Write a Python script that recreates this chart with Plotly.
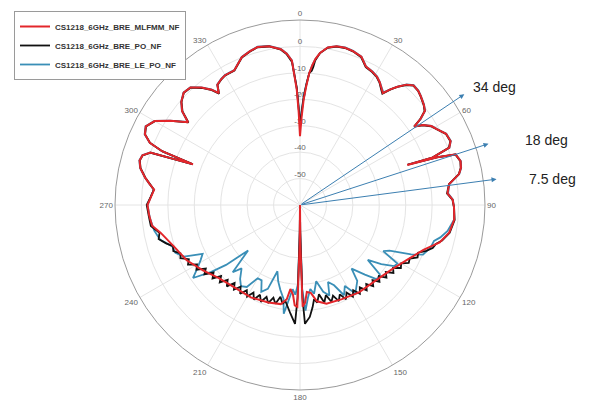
import math
import plotly.graph_objects as go

# ---------------- data ----------------
series_names = ["CS1218_6GHz_BRE_MLFMM_NF", "CS1218_6GHz_BRE_PO_NF", "CS1218_6GHz_BRE_LE_PO_NF"]

theta_mlfmm = [0, 1, 2, 3, 4, 5, 6, 7.5, 10, 13, 16, 19, 22.5, 25.5, 28.5, 31, 33, 35, 36.5, 38,
               39.5, 41.5, 43.5, 46, 48, 51, 53, 54.5, 55.5, 57, 59, 61, 64, 67, 69, 70.3, 69.5,
               70.8, 72, 74.7, 77, 79, 82, 85.5, 88, 91, 95.5, 100.5, 105, 110, 117, 125.5, 135.5,
               146, 156, 165, 170, 173, 175.5, 177, 178.5, 179.5, 180, 180.5, 181.5, 183, 184.5,
               186.5, 188, 191, 198, 208, 218, 228, 236, 244, 252, 258.8, 262, 266, 270, 273, 276,
               278, 280, 283, 285.5, 287.5, 289.3, 290.8, 291.3, 292.5, 294.5, 297, 300, 303, 306.5,
               308.5, 311, 314, 317, 320, 322.5, 324, 325.5, 328, 330, 334, 338.5, 342, 345, 349,
               353, 355, 356.8, 358.4, 359.2, 360]
r_mlfmm = [-34, -27, -20, -15, -10, -7, -4.5, -2, 0.5, 1.6, 1.9, 1.6, 0.7, -2.0, -2.6, -3.4, -4.6,
           -6.2, -7.3, -4.5, -2, 0.8, 2.4, 2.2, 1.5, 0.3, -0.8, -4, -7.5, -4.5, -2, -0.8, 1.5, 1.9,
           0.5, -6.6, -16.7, -5, 1.9, 3.0, 2.5, 1.3, -3, -4, -2.2, -1.7, -1.4, -2.6, -5.3, -10.3,
           -14.4, -17.7, -19.6, -20.1, -21, -21.3, -23, -26.5, -27, -23, -21.5, -45, -60, -45,
           -21.5, -22, -26, -28, -24, -21.8, -21.2, -20.4, -20.2, -18.7, -15.7, -12.3, -9.7, -6.2,
           -3.5, -2.8, -2.3, -3.5, -4.5, -2.5, -0.5, 2.0, 3.0, 2.5, 0, -16.7, -4, 1.5, 4.5, 5.5,
           3.5, -1.5, -7.3, -3, -0.5, 1.2, 0.8, -2.0, -5, -7.7, -4.8, -3.8, -3.3, -3.3, 0.1, 1.2,
           1.9, 1.2, -0.6, -2.5, -5.3, -16.4, -25, -34]

theta_po = [0, 1, 2, 3, 4, 5, 5.5, 6, 7.5, 10, 13, 16, 19, 22.5, 25.5, 28.5, 31, 33, 35, 36.5, 38,
            39.5, 41.5, 43.5, 46, 48, 51, 53, 54.5, 55.5, 57, 59, 61, 64, 67, 69, 70.3, 69.5, 70.8,
            72, 74.7, 77, 79, 82, 85.5, 88, 91, 95.5, 100.5, 104, 106, 108, 110, 112, 114, 116, 118,
            120, 122, 124, 126, 128, 130, 132, 134, 136, 138, 140, 142, 144, 146, 148, 150, 152,
            154, 156, 158, 160, 162, 164, 166, 168, 170, 171.5, 173, 175, 177.6, 178.5, 179.5, 180,
            180.5, 181.5, 182.4, 185, 188.7, 190, 192, 194, 196, 198, 200, 202, 204, 206, 208, 210,
            212, 214, 216, 218, 220, 222, 224, 226, 228, 230, 232, 234, 236, 238, 240, 242, 244,
            246, 248, 250, 252, 254, 256.5, 258.8, 262, 266, 270, 273, 276, 278, 280, 283, 285.5,
            287.5, 289.3, 290.8, 291.3, 292.5, 294.5, 297, 300, 303, 306.5, 308.5, 311, 314, 317,
            320, 322.5, 324, 325.5, 328, 330, 334, 338.5, 342, 345, 349, 353, 355, 356.8, 358.4,
            359.2, 360]
r_po = [-30, -25, -19, -14.5, -10, -9, -7.5, -5, -2, 0.4, 1.5, 1.8, 1.5, 0.5, -2.2, -2.8, -3.6,
        -4.8, -6.5, -7.6, -4.6, -2.1, 0.6, 2.3, 2.1, 1.4, 0.2, -1, -4.2, -7.6, -4.6, -2.2, -0.9, 1.4,
        1.8, 0.3, -6.8, -16.5, -5.2, 1.8, 2.9, 2.4, 1.2, -3.1, -4.2, -2.3, -1.7, -1.2, -2.4, -4.6,
        -6.5, -7.2, -9.2, -11.8, -11.3, -13.8, -13.4, -15.8, -15, -17.5, -16.3, -18.8, -17.3,
        -19.8, -18.2, -20.5, -18.6, -21, -19, -21.5, -19.5, -22, -20, -22.5, -20.3, -23, -20.8,
        -23.5, -21.5, -24.5, -22, -25.5, -22.5, -24, -21, -17.5, -15, -25, -50, -60, -50, -25,
        -15, -18.7, -23.3, -22, -24.5, -21.5, -23.5, -21, -23, -20.5, -22.8, -20.2, -22.5, -20,
        -22, -19.5, -21.8, -19.4, -21.5, -18.6, -20.6, -17.8, -19.8, -16.8, -18.5, -15.3, -17,
        -13.8, -15, -12, -13.2, -10.5, -11.2, -9, -9.5, -7.3, -5, -5.8, -3, -2.6, -2.0, -3.4, -4.4,
        -2.6, -0.6, 1.9, 2.9, 2.4, -0.2, -16.5, -4.2, 1.4, 4.4, 5.4, 3.4, -1.6, -7.5, -3.2, -0.6,
        1.1, 0.7, -2.2, -5.2, -7.9, -4.9, -3.9, -3.4, -3.4, 0, 1.1, 1.8, 1.1, -0.8, -2.8, -5.8,
        -15.5, -23, -30]

theta_le_po = [0, 1, 2, 3, 4, 5, 6, 7.5, 10, 13, 16, 19, 22.5, 25.5, 28.5, 31, 33, 35, 36.5, 38,
               39.5, 41.5, 43.5, 46, 48, 51, 53, 54.5, 55.5, 57, 59, 61, 64, 67, 69, 70.3, 69.5,
               70.8, 72, 74.7, 77, 79, 82, 85.5, 88, 91, 95.5, 100, 103, 105, 108, 112, 114, 117,
               119, 121, 123, 126, 129, 131, 134, 137, 141, 143, 146, 148, 151, 154, 157, 160, 162,
               165, 168, 171, 173, 175, 177, 178.5, 179.5, 180, 180.5, 181.5, 183, 185, 188.5, 190,
               193, 196, 198.8, 201, 204, 207, 210, 213, 216, 219, 222.7, 225, 228.8, 231, 233,
               235.7, 238, 241, 243.4, 246, 249, 252, 256, 260, 265, 270, 273, 276, 278, 280, 283,
               285.5, 287.5, 289.3, 290.8, 291.3, 292.5, 294.5, 297, 300, 303, 306.5, 308.5, 311,
               314, 317, 320, 322.5, 324, 325.5, 328, 330, 334, 338.5, 342, 345, 349, 353, 355,
               356.8, 358.4, 359.2, 360]
r_le_po = [-29, -24, -18.5, -14, -10, -7, -4.5, -2, 0.6, 1.7, 2.0, 1.7, 0.8, -1.9, -2.5, -3.3,
           -4.5, -6.0, -7.0, -4.4, -1.9, 0.9, 2.5, 2.3, 1.6, 0.4, -0.7, -3.8, -7.2, -4.4, -1.9,
           -0.7, 1.6, 2.0, 0.6, -6.4, -16.4, -4.8, 2.0, 3.1, 2.6, 1.4, -2.9, -3.8, -2.1, -1.7, -1.5,
           -3.3, -5.5, -7.5, -8, -9.8, -14, -22, -24, -17, -17.5, -22, -27, -20, -19.5, -24, -29,
           -24, -22, -20.5, -25, -22, -27, -29, -24, -26, -30.5, -26, -28, -25, -20, -28, -50, -60,
           -50, -30, -26, -28, -18.4, -24, -27, -30, -33.5, -26, -24, -28, -28, -23, -22, -24,
           -27.4, -24, -33.9, -24, -18, -11, -14, -17, -18.8, -12, -9.5, -9.2, -5.5, -4, -3,
           -2.3, -3.4, -4.4, -2.4, -0.4, 2.1, 3.1, 2.6, 0.1, -16.6, -3.9, 1.6, 4.6, 5.6, 3.6,
           -1.4, -7.1, -2.9, -0.4, 1.3, 0.9, -1.9, -4.9, -7.5, -4.7, -3.7, -3.2, -3.2, 0.2, 1.3,
           2.0, 1.3, -0.5, -2.4, -5.2, -15.8, -23, -29]

radial_tick_vals = [-50, -40, -30, -20, -10, 0]
angular_tick_vals = [0, 30, 60, 90, 120, 150, 180, 210, 240, 270, 300, 330]

arrow_elevations = [34, 18, 7.5]          # degrees above the 90-deg direction
arrow_labels = ["34 deg", "18 deg", "7.5 deg"]
arrow_length = 75                          # in dB-span units measured from the centre

# ---------------- styling ----------------
R_MIN, R_MAX = -60, 10
colors = ["#E3262B", "#111111", "#3A8FB7"]
widths = [2.0, 1.8, 1.8]
label_shift = [(7, 7), (34, 4), (30, 0)]
arrow_color = "#3C7FB1"
font_family = "Liberation Sans, Arial, sans-serif"
FIG_W, FIG_H = 581, 397          # page body keeps an 8px margin inside the 589x405 window
SIDE = 370                       # polar square, px
M_L, M_T = 107, 12

fig = go.Figure()

# radial tick labels drawn underneath the curves
fig.add_trace(go.Scatterpolar(
    r=radial_tick_vals, theta=[0] * len(radial_tick_vals),
    text=[str(v) for v in radial_tick_vals], mode="text", textposition="top center",
    textfont=dict(size=8, color="#666666", family=font_family),
    showlegend=False, hoverinfo="skip", cliponaxis=False))

data = [(theta_le_po, r_le_po, 2), (theta_po, r_po, 1), (theta_mlfmm, r_mlfmm, 0)]
for th, rr, i in data:
    fig.add_trace(go.Scatterpolar(
        r=rr, theta=th, mode="lines", name=series_names[i],
        line=dict(color=colors[i], width=widths[i])))

# arrows from the centre, on an invisible cartesian overlay sharing the polar square
span = R_MAX - R_MIN
for elev, lab, (dx, dy) in zip(arrow_elevations, arrow_labels, label_shift):
    tx = arrow_length * math.cos(math.radians(elev))
    ty = arrow_length * math.sin(math.radians(elev))
    fig.add_annotation(x=tx, y=ty, ax=0, ay=0, xref="x", yref="y", axref="x", ayref="y",
                       showarrow=True, arrowhead=2, arrowsize=1, arrowwidth=1,
                       arrowcolor=arrow_color, text="")
    # label placed in paper units of the same square (the overlay axes span [-span, span])
    fig.add_annotation(x=0.5 + tx / (2 * span), y=0.5 + ty / (2 * span),
                       xref="paper", yref="paper", showarrow=False, text=lab,
                       xanchor="left", yanchor="middle", xshift=dx, yshift=dy,
                       font=dict(size=14, color="#222222", family=font_family))

fig.update_layout(
    width=FIG_W, height=FIG_H,
    margin=dict(l=M_L, r=FIG_W - M_L - SIDE, t=M_T, b=FIG_H - M_T - SIDE, autoexpand=False),
    paper_bgcolor="white", plot_bgcolor="rgba(0,0,0,0)",
    font=dict(family=font_family),
    xaxis=dict(range=[-span, span], visible=False, domain=[0, 1], fixedrange=True),
    yaxis=dict(range=[-span, span], visible=False, domain=[0, 1], fixedrange=True),
    polar=dict(
        domain=dict(x=[0, 1], y=[0, 1]),
        bgcolor="white",
        angularaxis=dict(rotation=90, direction="clockwise", tickvals=angular_tick_vals,
                         ticktext=[str(v) for v in angular_tick_vals], ticks="",
                         showline=True, linecolor="#9a9a9a", linewidth=1,
                         gridcolor="#e4e4e4", gridwidth=1,
                         tickfont=dict(size=8, color="#666666", family=font_family)),
        radialaxis=dict(range=[R_MIN, R_MAX], dtick=10, tick0=0, angle=90,
                        showticklabels=False, ticks="", showline=False,
                        gridcolor="#e4e4e4", gridwidth=1),
    ),
    legend=dict(xref="container", yref="container", x=6 / FIG_W, y=1 - 3 / FIG_H,
                xanchor="left", yanchor="top", traceorder="reversed",
                bgcolor="white", bordercolor="#9a9a9a", borderwidth=1,
                font=dict(size=8, color="#333333", family=font_family, weight="bold"),
                itemwidth=30, tracegroupgap=0),
    showlegend=True,
)

fig.write_html("out.html")
